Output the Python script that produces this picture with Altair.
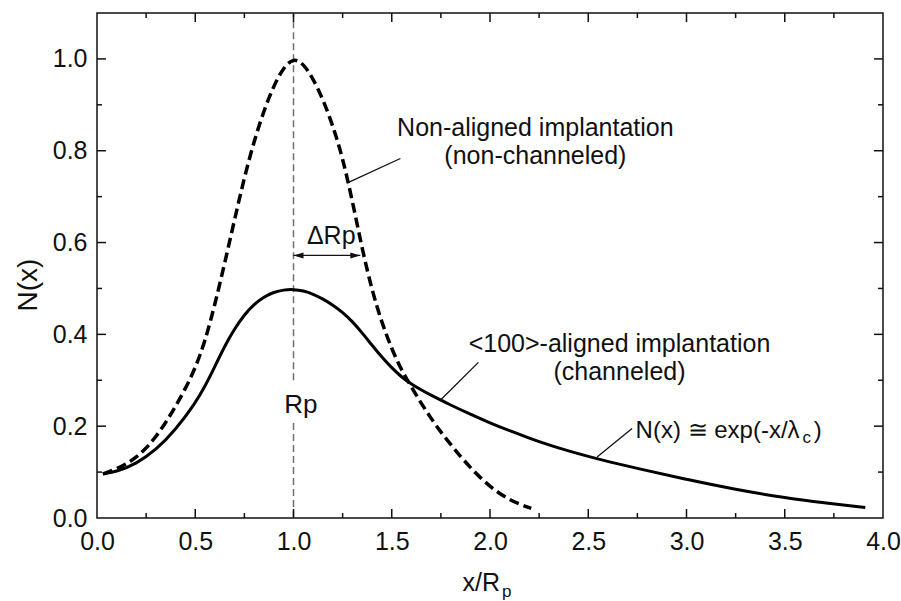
import altair as alt
import pandas as pd

# ---- data ----
dash_x = [0.03, 0.10, 0.15, 0.20, 0.25, 0.30, 0.35, 0.40, 0.45, 0.50, 0.55, 0.60, 0.65, 0.70, 0.75,
          0.80, 0.85, 0.90, 0.95, 1.00, 1.05, 1.10, 1.15, 1.20, 1.25, 1.30, 1.35, 1.40, 1.45, 1.50,
          1.55, 1.60, 1.65, 1.70, 1.75, 1.80, 1.85, 1.90, 1.95, 2.00, 2.05, 2.10, 2.15, 2.21]
dash_y = [0.096, 0.107, 0.118, 0.132, 0.152, 0.177, 0.208, 0.243, 0.282, 0.326, 0.385, 0.465, 0.555,
          0.650, 0.742, 0.822, 0.888, 0.942, 0.982, 1.002, 0.990, 0.957, 0.912, 0.855, 0.785, 0.690,
          0.585, 0.495, 0.425, 0.368, 0.322, 0.285, 0.250, 0.217, 0.187, 0.160, 0.134, 0.110, 0.088,
          0.069, 0.053, 0.040, 0.030, 0.021]

solid_x = [0.03, 0.10, 0.20, 0.30, 0.40, 0.50, 0.55, 0.60, 0.65, 0.70, 0.75, 0.80, 0.85, 0.90, 0.95,
           1.00, 1.05, 1.10, 1.15, 1.20, 1.25, 1.30, 1.35, 1.40, 1.45, 1.50, 1.55, 1.60, 1.70, 1.80,
           1.90, 2.00, 2.10, 2.20, 2.30, 2.40, 2.50, 2.60, 2.75, 3.00, 3.25, 3.50, 3.70, 3.91]
solid_y = [0.096, 0.101, 0.118, 0.148, 0.192, 0.250, 0.287, 0.330, 0.375, 0.412, 0.443, 0.466, 0.482,
           0.492, 0.497, 0.498, 0.495, 0.488, 0.477, 0.464, 0.448, 0.428, 0.403, 0.376, 0.350, 0.327,
           0.307, 0.291, 0.267, 0.246, 0.226, 0.207, 0.190, 0.174, 0.159, 0.146, 0.134, 0.123, 0.108,
           0.084, 0.062, 0.044, 0.033, 0.023]

x_major = [0.0, 0.5, 1.0, 1.5, 2.0, 2.5, 3.0, 3.5, 4.0]
x_minor = [0.25, 0.75, 1.25, 1.75, 2.25, 2.75, 3.25, 3.75]
y_major = [0.0, 0.2, 0.4, 0.6, 0.8, 1.0]
y_minor = [0.1, 0.3, 0.5, 0.7, 0.9]

# Rp reference line (two segments around the "Rp" label)
rp_x = [1.0, 1.0]
rp_y1 = [0.0, 0.30]
rp_y2 = [0.207, 1.1]

# leader lines
lead_x1 = [1.544, 1.941, 2.723]
lead_y1 = [0.783, 0.339, 0.195]
lead_x2 = [1.280, 1.747, 2.545]
lead_y2 = [0.731, 0.2565, 0.133]

# ΔRp arrow
arrow_x1, arrow_x2, arrow_y = 1.0, 1.34, 0.572

# centered annotations
c_text = ["Non-aligned implantation", "(non-channeled)", "<100>-aligned implantation",
          "(channeled)", "ΔRp", "Rp"]
c_x = [2.231, 2.231, 2.659, 2.659, 1.192, 1.038]
c_y = [0.8326, 0.7717, 0.361, 0.300, 0.597, 0.229]
c_size = [25, 25, 25, 25, 25, 26]

# left aligned formula pieces
f_text = ["N(x) ≅ exp(-x/λ", ")"]
f_x = [2.741, 3.648]
f_y = [0.174, 0.174]
sub_text = ["c"]
sub_x = [3.590]
sub_y = [0.163]

W, H = 786, 505
FONT = "Liberation Sans"
xs = alt.Scale(domain=[0, 4], nice=False, zero=False)
ys = alt.Scale(domain=[0, 1.1], nice=False, zero=False)

xaxis = alt.Axis(values=x_major, format=".1f", labelFontSize=25, labelFont=FONT, labelColor="#111",
                 labelPadding=11, ticks=False, tickSize=0, domain=False, grid=False, title=None,
                 labelFlush=False, labelOverlap=False)
yaxis = alt.Axis(values=y_major, format=".1f", labelFontSize=25, labelFont=FONT, labelColor="#111",
                 labelPadding=10, ticks=False, tickSize=0, domain=False, grid=False, title=None,
                 labelFlush=False, labelOverlap=False)


def X(f):
    return alt.X(f, type="quantitative", scale=xs, axis=xaxis)


def Y(f):
    return alt.Y(f, type="quantitative", scale=ys, axis=yaxis)


dash_df = pd.DataFrame({"x": dash_x, "y": dash_y})
solid_df = pd.DataFrame({"x": solid_x, "y": solid_y})

rp_line = alt.Chart(pd.DataFrame({"x": rp_x, "y": rp_y1, "y2": rp_y2})).mark_rule(
    color="#707070", strokeWidth=1.5, strokeDash=[7, 4]
).encode(x=X("x"), y=Y("y"), y2="y2")

dash_line = alt.Chart(dash_df).mark_line(
    color="#000", strokeWidth=3.5, strokeDash=[10, 5], interpolate="basis"
).encode(x=X("x"), y=Y("y"))

solid_line = alt.Chart(solid_df).mark_line(
    color="#000", strokeWidth=3, interpolate="basis"
).encode(x=X("x"), y=Y("y"))

leaders = alt.Chart(pd.DataFrame({"x": lead_x1, "y": lead_y1, "x2": lead_x2, "y2": lead_y2})).mark_rule(
    color="#111", strokeWidth=1.3
).encode(x=X("x"), y=Y("y"), x2="x2", y2="y2")

arrow_line = alt.Chart(pd.DataFrame({"x": [arrow_x1], "x2": [arrow_x2], "y": [arrow_y]})).mark_rule(
    color="#111", strokeWidth=1.3
).encode(x=X("x"), x2="x2", y=Y("y"))

head_L = "M0,0L1,-0.3L1,0.3Z"
head_R = "M0,0L-1,-0.3L-1,0.3Z"
heads = alt.Chart(pd.DataFrame({"x": [arrow_x1, arrow_x2], "y": [arrow_y, arrow_y], "s": ["L", "R"]})).mark_point(
    filled=True, color="#111", size=400, opacity=1
).encode(x=X("x"), y=Y("y"),
         shape=alt.Shape("s:N", scale=alt.Scale(domain=["L", "R"], range=[head_L, head_R]), legend=None))

c_labels = alt.Chart(pd.DataFrame({"t": c_text, "x": c_x, "y": c_y, "s": c_size})).mark_text(
    font=FONT, color="#111", align="center", baseline="alphabetic"
).encode(x=X("x"), y=Y("y"), text="t:N", size=alt.Size("s:Q", scale=None, legend=None))

f_labels = alt.Chart(pd.DataFrame({"t": f_text, "x": f_x, "y": f_y})).mark_text(
    font=FONT, fontSize=24, color="#111", align="left", baseline="alphabetic"
).encode(x=X("x"), y=Y("y"), text="t:N")

sub_labels = alt.Chart(pd.DataFrame({"t": sub_text, "x": sub_x, "y": sub_y})).mark_text(
    font=FONT, fontSize=17, color="#111", align="left", baseline="alphabetic"
).encode(x=X("x"), y=Y("y"), text="t:N")

# axis titles
xt_main = alt.Chart(pd.DataFrame({"t": ["x/R"], "x": [2.0]})).mark_text(
    font=FONT, fontSize=25, color="#111", align="right", baseline="alphabetic", dx=10
).encode(x=X("x"), y=alt.value(578), text="t:N")
xt_sub = alt.Chart(pd.DataFrame({"t": ["p"], "x": [2.0]})).mark_text(
    font=FONT, fontSize=17, color="#111", align="left", baseline="alphabetic", dx=12
).encode(x=X("x"), y=alt.value(584), text="t:N")
yt = alt.Chart(pd.DataFrame({"t": ["N(x)"]})).mark_text(
    font=FONT, fontSize=28, color="#111", align="center", baseline="middle", angle=270
).encode(x=alt.value(-68), y=alt.value(272), text="t:N")


# inward ticks on all four sides
def xticks(vals, length):
    d = pd.DataFrame({"v": vals})
    b = alt.Chart(d).mark_rule(color="#111", strokeWidth=1.5).encode(
        x=X("v"), y=alt.value(H), y2=alt.value(H - length))
    t = alt.Chart(d).mark_rule(color="#111", strokeWidth=1.5).encode(
        x=X("v"), y=alt.value(0), y2=alt.value(length))
    return [b, t]


def yticks(vals, length):
    d = pd.DataFrame({"v": vals})
    l = alt.Chart(d).mark_rule(color="#111", strokeWidth=1.5).encode(
        y=Y("v"), x=alt.value(0), x2=alt.value(length))
    r = alt.Chart(d).mark_rule(color="#111", strokeWidth=1.5).encode(
        y=Y("v"), x=alt.value(W), x2=alt.value(W - length))
    return [l, r]


tick_layers = xticks(x_major[1:-1], 9) + xticks(x_minor, 5) + yticks(y_major[1:], 9) + yticks(y_minor, 5)

chart = alt.layer(
    rp_line, dash_line, solid_line, leaders, arrow_line, heads,
    c_labels, f_labels, sub_labels, xt_main, xt_sub, yt, *tick_layers
).properties(
    width=W, height=H,
    autosize=alt.AutoSizeParams(type="none"),
    padding={"left": 97, "top": 13, "right": 18, "bottom": 83},
    background="white",
).configure_view(stroke="#111", strokeWidth=1.5)

chart.save("out.html", embed_options={"renderer": "svg", "actions": False})
